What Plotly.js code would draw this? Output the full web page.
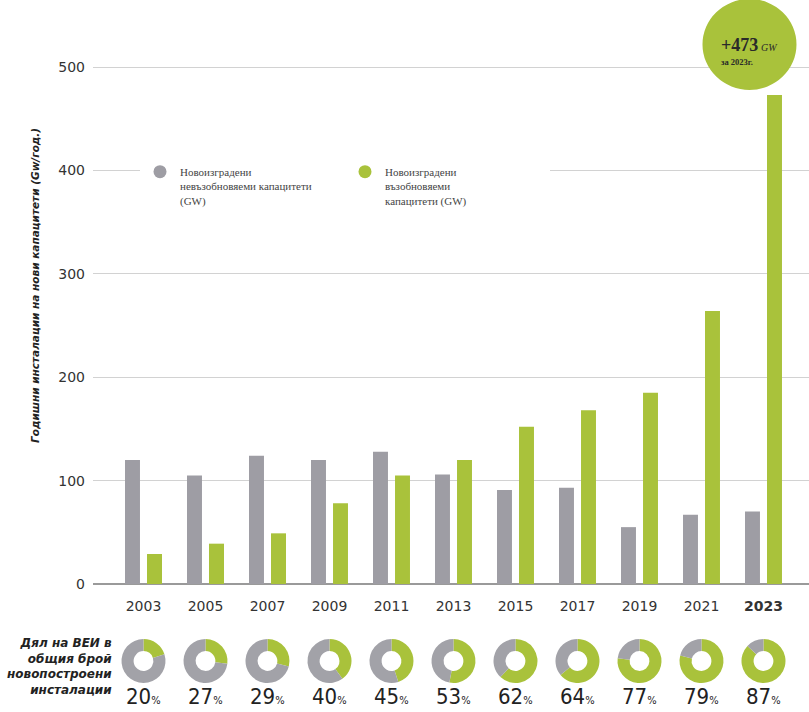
<!DOCTYPE html>
<html>
<head>
<meta charset="utf-8">
<script src="https://cdn.plot.ly/plotly-3.0.1.min.js"></script>
<style>html,body{margin:0;padding:0;background:#fff;}#chart{width:809px;height:712px;}</style>
</head>
<body>
<div id="chart"></div>
<script>
// ---- Data ----
const years = ['2003','2005','2007','2009','2011','2013','2015','2017','2019','2021','2023'];
const nonRenewable = [120, 105, 124, 120, 128, 106, 91, 93, 55, 67, 70];
const renewable = [29, 39, 49, 78, 105, 120, 152, 168, 185, 264, 473];
const renewableShare = [20, 27, 29, 40, 45, 53, 62, 64, 77, 79, 87];
const seriesNames = ['Новоизградени<br>невъзобновяеми капацитети<br>(GW)', 'Новоизградени<br>възобновяеми<br>капацитети (GW)'];
const yTitle = 'Годишни инсталации на нови капацитети (Gw/год.)';
const shareLabel = 'Дял на ВЕИ в<br>общия брой<br>новопостроени<br>инсталации';
const highlightValue = '+473';
const highlightUnit = 'GW';
const highlightSub = 'за 2023г.';

// ---- Styles ----
const GRAY = '#9e9da4';
const GREEN = '#a9c23b';
const W = 809, H = 712, L = 93;
const plotW = W - L;
const xRange = [-0.8145, 10.734];
const last = years.length - 1;

const traces = [];
// legend-only markers (circles)
traces.push({type:'scatter', x:[null], y:[null], mode:'markers', name:seriesNames[0],
  marker:{color:GRAY, size:13}, showlegend:true, hoverinfo:'skip'});
traces.push({type:'scatter', x:[null], y:[null], mode:'markers', name:seriesNames[1],
  marker:{color:GREEN, size:13}, showlegend:true, hoverinfo:'skip'});
traces.push({type:'bar', x:years, y:nonRenewable, name:'nonren', marker:{color:GRAY}, showlegend:false});
traces.push({type:'bar', x:years, y:renewable, name:'ren', marker:{color:GREEN}, showlegend:false});

// donuts
const rPx = 22;
const cyFromBottom = 51;
renewableShare.forEach((v, i) => {
  const cx = (i - xRange[0]) / (xRange[1] - xRange[0]);
  traces.push({
    type:'pie', values:[v, 100 - v], labels:['ВЕИ','други'], sort:false, direction:'clockwise', rotation:0,
    hole:0.45, textinfo:'none', hoverinfo:'skip', showlegend:false,
    marker:{colors:[GREEN, '#a2a2a8'], line:{width:0}},
    domain:{x:[cx - rPx/plotW, cx + rPx/plotW], y:[(cyFromBottom - rPx)/H, (cyFromBottom + rPx)/H]}
  });
});

const annotations = [];
renewableShare.forEach((v, i) => {
  annotations.push({xref:'x', yref:'paper', x:i, y:(H - 696)/H, xanchor:'center', yanchor:'middle',
    showarrow:false, text: v + '<span style="font-size:11px">%</span>',
    font:{family:'DejaVu Sans Condensed, Liberation Sans Narrow, sans-serif', size:22, color:'#222'}});
});
annotations.push({xref:'paper', yref:'paper', x:(35 - L)/plotW, y:(H - 286)/H, textangle:-90,
  xanchor:'center', yanchor:'middle', showarrow:false, text:'<b><i>' + yTitle + '</i></b>',
  font:{family:'DejaVu Sans, sans-serif', size:10.5, color:'#222'}});
annotations.push({xref:'paper', yref:'paper', x:(114 - L)/plotW, y:(H - 666)/H, xanchor:'right', yanchor:'middle',
  align:'right', showarrow:false, text:'<b><i>' + shareLabel + '</i></b>',
  font:{family:'DejaVu Sans, sans-serif', size:12, color:'#222'}});
annotations.push({xref:'x', yref:'y', x:last, y:renewable[last],
  xanchor:'center', yanchor:'middle', xshift:-14, yshift:44, showarrow:false, align:'left',
  text:'<b><span style="font-size:18px">' + highlightValue + '</span></b> <i><span style="font-size:10px">' + highlightUnit + '</span></i><br><b><span style="font-size:8.5px">' + highlightSub + '</span></b>',
  font:{family:'Liberation Serif, serif', size:11, color:'#2a2a2a'}});

const shapes = [{
  type:'circle', xref:'x', yref:'y', xsizemode:'pixel', ysizemode:'pixel',
  xanchor:last, yanchor:renewable[last],
  x0:-61, x1:33, y0:5, y1:96, fillcolor:GREEN, line:{width:0}, layer:'above'
}];

const layout = {
  width:W, height:H,
  margin:{l:L, r:0, t:0, b:0, pad:0},
  paper_bgcolor:'#fff', plot_bgcolor:'#fff',
  showlegend:true,
  barmode:'group', bargap:0.29, bargroupgap:0.32,
  xaxis:{type:'category', range:xRange, tickvals:years,
    ticktext:years.map((y,i)=> i===last ? '<b>'+y+'</b>' : y),
    showgrid:false, zeroline:false, showline:false, ticks:'', ticklabelstandoff:12,
    tickfont:{family:'DejaVu Sans, sans-serif', size:14, color:'#333'}, fixedrange:true},
  yaxis:{domain:[(H-584)/H, 1], range:[0, 564.8], dtick:100, tick0:0,
    showgrid:true, gridcolor:'#d2d2d2', gridwidth:1,
    zeroline:true, zerolinecolor:'#9a9a9a', zerolinewidth:2, showline:false,
    ticks:'', ticklabelstandoff:7,
    tickfont:{family:'DejaVu Sans, sans-serif', size:14, color:'#333'}},
  legend:{orientation:'h', x:(140 - L)/plotW, xanchor:'left', y:1 - 158/H, yanchor:'top',
    bgcolor:'#fff', valign:'top', entrywidth:160, entrywidthmode:'pixels', itemclick:false,
    font:{family:'Liberation Serif, serif', size:11, color:'#444'}, traceorder:'normal'},
  annotations:annotations, shapes:shapes
};

Plotly.newPlot('chart', traces, layout, {displayModeBar:false, staticPlot:true});
</script>
</body>
</html>
